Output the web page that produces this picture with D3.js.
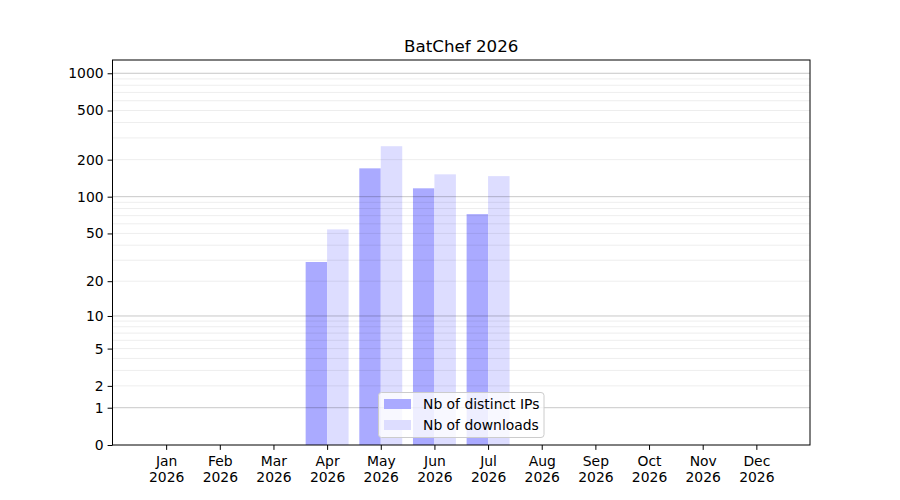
<!DOCTYPE html>
<html>
<head>
<meta charset="utf-8">
<script src="https://cdn.jsdelivr.net/npm/d3@7"></script>
<style>
  body { margin: 0; background: #fff; }
  svg { font-family: "DejaVu Sans", sans-serif; }
</style>
</head>
<body>
<div id="chart"></div>
<script>
// chart data
const months = ["Jan", "Feb", "Mar", "Apr", "May", "Jun", "Jul", "Aug", "Sep", "Oct", "Nov", "Dec"];
const year = "2026";
const distinctIPs = [0, 0, 0, 29, 170, 117, 72, 0, 0, 0, 0, 0];
const downloads = [0, 0, 0, 54, 257, 152, 147, 0, 0, 0, 0, 0];
const yTickValues = [0, 1, 2, 5, 10, 20, 50, 100, 200, 500, 1000];
const majorGrid = [1, 10, 100, 1000];
const minorGrid = [2, 3, 4, 5, 6, 7, 8, 9, 20, 30, 40, 50, 60, 70, 80, 90, 200, 300, 400, 500, 600, 700, 800, 900];

const width = 900, height = 500;
const margin = {top: 60, right: 90, bottom: 55, left: 112.5};

const svg = d3.select("#chart").append("svg")
    .attr("width", width)
    .attr("height", height)
    .attr("viewBox", [0, 0, width, height]);

const x = d3.scaleLinear()
    .domain([-1, 12])
    .range([margin.left, width - margin.right]);

const y = d3.scaleSymlog()
    .constant(1)
    .domain([0, 1280])
    .range([height - margin.bottom, margin.top]);

const step = x(1) - x(0);
const barW = step * 0.4;

// bars
svg.append("g")
    .selectAll("rect")
    .data(distinctIPs)
    .join("rect")
    .attr("x", (d, i) => x(i) - barW)
    .attr("y", d => y(d))
    .attr("width", barW)
    .attr("height", d => y(0) - y(d))
    .attr("fill", "#aaaaff");

svg.append("g")
    .selectAll("rect")
    .data(downloads)
    .join("rect")
    .attr("x", (d, i) => x(i))
    .attr("y", d => y(d))
    .attr("width", barW)
    .attr("height", d => y(0) - y(d))
    .attr("fill", "#ddddff");

// grid lines (drawn over the bars, like the original)
svg.append("g")
    .selectAll("line")
    .data(minorGrid)
    .join("line")
    .attr("x1", margin.left)
    .attr("x2", width - margin.right)
    .attr("y1", d => y(d))
    .attr("y2", d => y(d))
    .attr("stroke", "#000")
    .attr("stroke-opacity", 0.07)
    .attr("stroke-width", 1);

svg.append("g")
    .selectAll("line")
    .data(majorGrid)
    .join("line")
    .attr("x1", margin.left)
    .attr("x2", width - margin.right)
    .attr("y1", d => y(d))
    .attr("y2", d => y(d))
    .attr("stroke", "#000")
    .attr("stroke-opacity", 0.22)
    .attr("stroke-width", 1);

// axes
const yAxis = d3.axisLeft(y)
    .tickValues(yTickValues)
    .tickFormat(d3.format("d"))
    .tickSize(4.9)
    .tickPadding(4);

svg.append("g")
    .attr("transform", `translate(${margin.left},0)`)
    .call(yAxis)
    .call(g => g.select(".domain").remove())
    .call(g => g.selectAll("text").attr("font-size", "13.9px").attr("fill", "#000").attr("font-family", "DejaVu Sans"));

const xAxis = d3.axisBottom(x)
    .tickValues(d3.range(12))
    .tickFormat("")
    .tickSize(4.9);

const xg = svg.append("g")
    .attr("transform", `translate(0,${height - margin.bottom})`)
    .call(xAxis)
    .call(g => g.select(".domain").remove());

xg.selectAll(".tick").append("text")
    .attr("fill", "#000")
    .attr("text-anchor", "middle")
    .attr("font-size", "13.9px")
    .attr("font-family", "DejaVu Sans")
    .each(function(d) {
        const t = d3.select(this);
        t.append("tspan").attr("x", 0).attr("y", 21).text(months[d]);
        t.append("tspan").attr("x", 0).attr("y", 37).text(year);
    });

// frame
svg.append("rect")
    .attr("x", margin.left)
    .attr("y", margin.top)
    .attr("width", width - margin.left - margin.right)
    .attr("height", height - margin.top - margin.bottom)
    .attr("fill", "none")
    .attr("stroke", "#000")
    .attr("stroke-width", 1);

// title
svg.append("text")
    .attr("x", (margin.left + width - margin.right) / 2)
    .attr("y", 52)
    .attr("text-anchor", "middle")
    .attr("font-size", "16.7px")
    .attr("fill", "#000")
    .text("BatChef 2026");

// legend
const legendItems = [
    {label: "Nb of distinct IPs", color: "#aaaaff"},
    {label: "Nb of downloads", color: "#ddddff"}
];
const lg = svg.append("g");
lg.append("rect")
    .attr("x", 378.5)
    .attr("y", 392.5)
    .attr("width", 165.5)
    .attr("height", 45)
    .attr("rx", 3)
    .attr("fill", "#fff")
    .attr("fill-opacity", 0.8)
    .attr("stroke", "#cccccc");

legendItems.forEach((item, i) => {
    lg.append("rect")
        .attr("x", 384)
        .attr("y", 399 + i * 21)
        .attr("width", 27)
        .attr("height", 10)
        .attr("fill", item.color);
    lg.append("text")
        .attr("x", 423)
        .attr("y", 409 + i * 21)
        .attr("font-size", "13.9px")
        .attr("fill", "#000")
        .text(item.label);
});
</script>
</body>
</html>
